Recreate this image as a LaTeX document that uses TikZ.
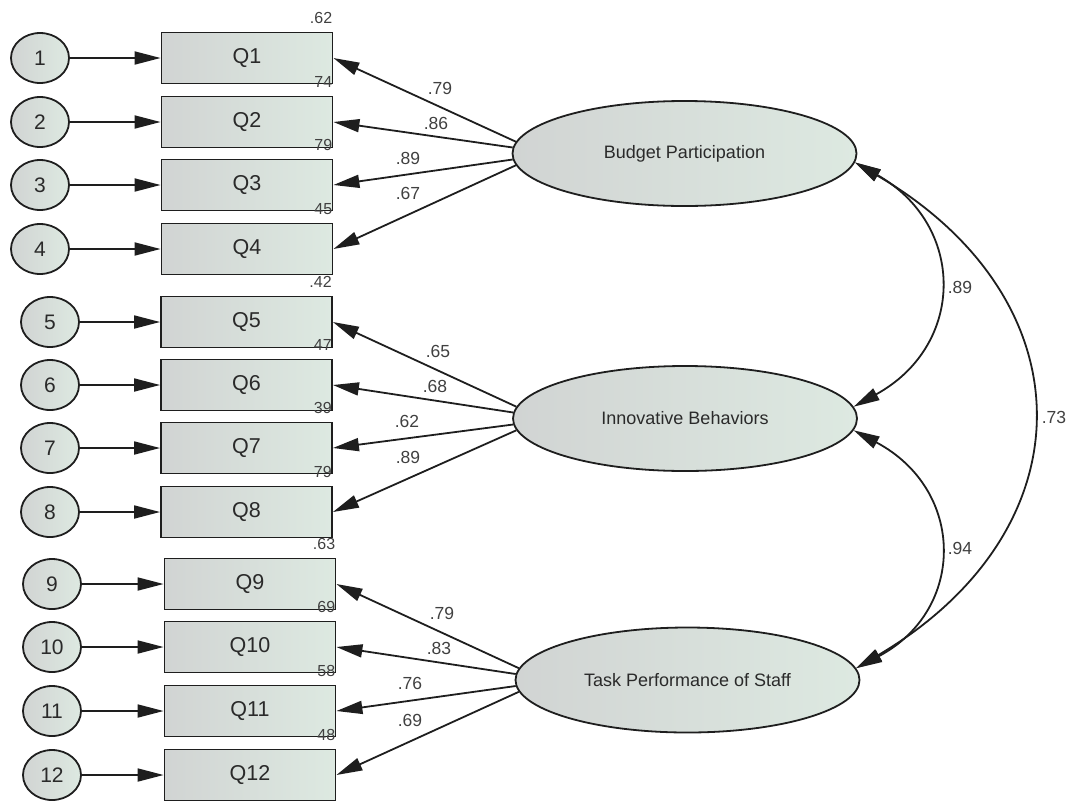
\documentclass[tikz,border=0pt]{standalone}
\usepackage{fontspec}
\setmainfont{Liberation Sans}
\usetikzlibrary{arrows.meta,shapes.geometric,calc}
\definecolor{fillL}{HTML}{D1D4D3}
\definecolor{fillR}{HTML}{DDE9E1}
\definecolor{ink}{HTML}{1E1E1E}
\definecolor{txt}{HTML}{2A2A2A}
\definecolor{txtl}{HTML}{404040}
\begin{document}
\begin{tikzpicture}[x=1pt,y=-1pt,
  err/.style={ellipse, draw=ink, line width=1.8pt, minimum width=58pt, minimum height=50pt, inner sep=0pt,
    left color=fillL, right color=fillR, text=txt, font=\fontsize{21}{24}\selectfont},
  obs/.style={rectangle, draw=ink, line width=1.8pt, minimum width=171pt, minimum height=51pt, inner sep=0pt,
    left color=fillL, right color=fillR, text=txt, font=\fontsize{21.5}{25}\selectfont},
  lat/.style={ellipse, draw=ink, line width=1.8pt, minimum width=344pt, minimum height=105pt, inner sep=0pt,
    left color=fillL, right color=fillR, text=txt, font=\fontsize{18}{21}\selectfont},
  arr/.style={draw=ink, line width=1.8pt, -{Triangle[length=26pt,width=13pt]}},
  cov/.style={draw=ink, line width=1.8pt, {Triangle[length=26pt,width=13pt]}-{Triangle[length=26pt,width=13pt]}},
  coef/.style={text=txtl, font=\fontsize{17.5}{20}\selectfont, inner sep=0pt},
  smc/.style={text=txtl, font=\fontsize{16}{18}\selectfont, inner sep=0pt, anchor=base east},
]
\useasboundingbox (0,0) rectangle (1070,801);

% observed variables
\node[obs] (q1)  at (247,58)  {Q1};
\node[obs] (q2)  at (247,122) {Q2};
\node[obs] (q3)  at (247,185) {Q3};
\node[obs] (q4)  at (247,249) {Q4};
\node[obs] (q5)  at (246.5,322) {Q5};
\node[obs] (q6)  at (246.5,385) {Q6};
\node[obs] (q7)  at (246.5,448) {Q7};
\node[obs] (q8)  at (246.5,512) {Q8};
\node[obs] (q9)  at (250,584) {Q9};
\node[obs] (q10) at (250,647) {Q10};
\node[obs] (q11) at (250,711) {Q11};
\node[obs] (q12) at (250,775) {Q12};

% error terms
\node[err] (e1)  at (40,58)  {1};
\node[err] (e2)  at (40,122) {2};
\node[err] (e3)  at (40,185) {3};
\node[err] (e4)  at (40,249) {4};
\node[err] (e5)  at (50,322) {5};
\node[err] (e6)  at (50,385) {6};
\node[err] (e7)  at (50,448) {7};
\node[err] (e8)  at (50,512) {8};
\node[err] (e9)  at (52,584) {9};
\node[err] (e10) at (52,647) {10};
\node[err] (e11) at (52,711) {11};
\node[err] (e12) at (52,775) {12};

% latent variables
\node[lat] (bp) at (684.5,153.5) {Budget Participation};
\node[lat] (ib) at (685,418.5)   {Innovative Behaviors};
\node[lat] (tp) at (687.5,680)   {Task Performance of Staff};

% error arrows
\foreach \i in {1,...,12} {
  \draw[arr] (e\i.east) -- (q\i.west);
}

% loadings
\draw[arr] (bp.176) -- (q1.east);
\draw[arr] (bp.178) -- (q2.east);
\draw[arr] (bp.182) -- (q3.east);
\draw[arr] (bp.184) -- (q4.east);
\draw[arr] (ib.176) -- (q5.east);
\draw[arr] (ib.178) -- (q6.east);
\draw[arr] (ib.182) -- (q7.east);
\draw[arr] (ib.184) -- (q8.east);
\draw[arr] (tp.176) -- (q9.east);
\draw[arr] (tp.178) -- (q10.east);
\draw[arr] (tp.182) -- (q11.east);
\draw[arr] (tp.184) -- (q12.east);

\node[coef] (c1)  at (440,88)  {.79};
\node[coef] (c2)  at (436,123) {.86};
\node[coef] (c3)  at (408,158) {.89};
\node[coef] (c4)  at (408,193) {.67};
\node[coef] (c5)  at (438,351) {.65};
\node[coef] (c6)  at (435,386) {.68};
\node[coef] (c7)  at (407,421) {.62};
\node[coef] (c8)  at (408,457) {.89};
\node[coef] (c9)  at (442,613) {.79};
\node[coef] (c10) at (439,648) {.83};
\node[coef] (c11) at (410,683) {.76};
\node[coef] (c12) at (410,720) {.69};

% covariances
\draw[cov] (bp.-3) .. controls (966,225) and (966,345) .. (ib.4);
\draw[cov] (ib.-4) .. controls (966,490) and (966,610) .. (tp.4);
\draw[cov] (bp.-3) .. controls (1090,300) and (1090,530) .. (tp.4);
\node[coef] (k1) at (960,287) {.89};
\node[coef] (k2) at (960,548) {.94};
\node[coef] (k3) at (1054,417) {.73};

% squared multiple correlations
\node[smc] (s1)  at ($(q1.north east)+(-1,-8)$)  {.62};
\node[smc] (s2)  at ($(q2.north east)+(-1,-8)$)  {74};
\node[smc] (s3)  at ($(q3.north east)+(-1,-8)$)  {79};
\node[smc] (s4)  at ($(q4.north east)+(-1,-8)$)  {45};
\node[smc] (s5)  at ($(q5.north east)+(-1,-8)$)  {.42};
\node[smc] (s6)  at ($(q6.north east)+(-1,-8)$)  {47};
\node[smc] (s7)  at ($(q7.north east)+(-1,-8)$)  {39};
\node[smc] (s8)  at ($(q8.north east)+(-1,-8)$)  {79};
\node[smc] (s9)  at ($(q9.north east)+(-1,-8)$)  {.63};
\node[smc] (s10) at ($(q10.north east)+(-1,-8)$) {69};
\node[smc] (s11) at ($(q11.north east)+(-1,-8)$) {58};
\node[smc] (s12) at ($(q12.north east)+(-1,-8)$) {48};
\end{tikzpicture}
\end{document}
